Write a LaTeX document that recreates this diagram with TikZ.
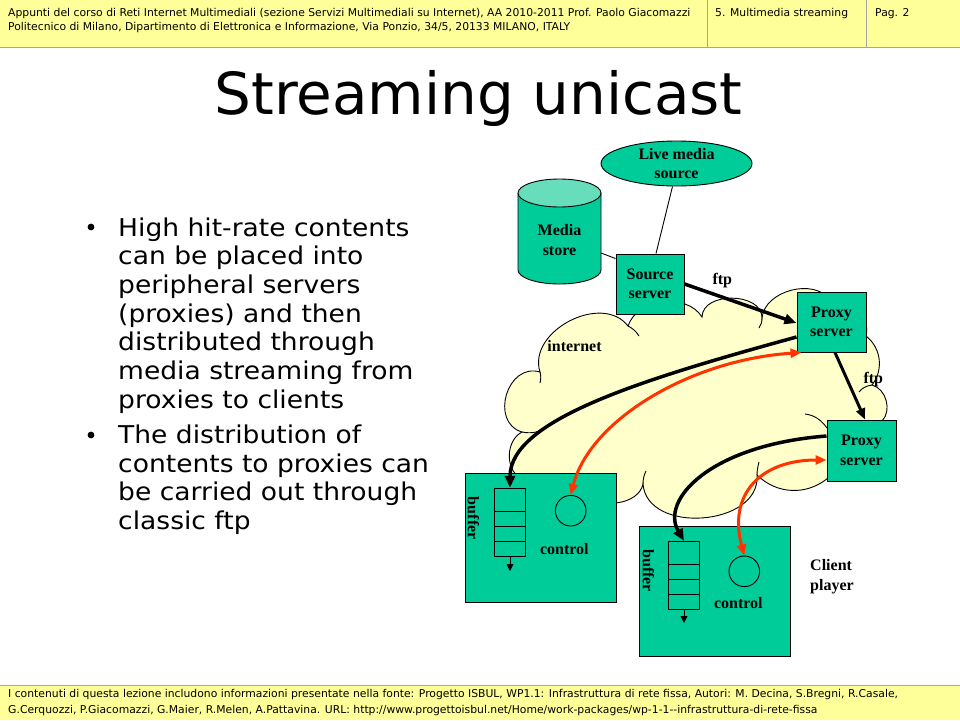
\documentclass[tikz,border=0pt]{standalone}
\usepackage{fontspec}
\setmainfont{DejaVu Sans}
\newfontfamily\tnr{Liberation Serif}
\newfontfamily\bulfont[FakeStretch=1.083]{DejaVu Sans}
\usetikzlibrary{arrows.meta,shapes.geometric}
\definecolor{hdr}{RGB}{255,255,153}
\definecolor{tealf}{RGB}{0,204,153}
\definecolor{tealtop}{RGB}{102,221,187}
\definecolor{cloudf}{RGB}{255,255,204}
\definecolor{redar}{RGB}{255,51,0}
\definecolor{bordergray}{RGB}{165,165,165}
\begin{document}
\begin{tikzpicture}[x=1pt,y=-1pt,
  lbl/.style={font=\tnr\bfseries\fontsize{16}{19.5}\selectfont, align=center, inner sep=0},
  box/.style={draw=black, line width=1pt, fill=tealf, inner sep=0},
  hdrtxt/.style={font=\fontsize{10.8}{13}\selectfont, anchor=base west, inner sep=0},
  bul/.style={font=\bulfont\fontsize{24.5}{28.6}\selectfont, anchor=base west, inner sep=0},
  blk/.style={line width=3.5pt, -{Triangle[length=12pt,width=10pt]}},
  redc/.style={draw=redar, line width=3pt, {Triangle[length=11pt,width=9pt]}-{Triangle[length=11pt,width=9pt]}},
  thinl/.style={line width=0.9pt},
  hook/.style={line width=0.9pt},
]
\useasboundingbox (0,0) rectangle (960,720);
\fill[white] (0,0) rectangle (960,720);
% header
\fill[hdr] (0,0) rectangle (960,47);
\draw[bordergray, line width=1pt] (0,47) -- (960,47);
\draw[bordergray, line width=1pt] (707,0) -- (707,47);
\draw[bordergray, line width=1pt] (866,0) -- (866,47);
\node[hdrtxt] (h1) at (8,16.5) {Appunti del corso di Reti Internet Multimediali (sezione Servizi Multimediali su Internet), AA 2010-2011 Prof. Paolo Giacomazzi};
\node[hdrtxt] (h2) at (8,30.5) {Politecnico di Milano, Dipartimento di Elettronica e Informazione, Via Ponzio, 34/5, 20133 MILANO, ITALY};
\node[hdrtxt] (h3) at (715,16.5) {5. Multimedia streaming};
\node[hdrtxt] (h4) at (875,16.5) {Pag. 2};
% footer
\fill[hdr] (0,685) rectangle (960,720);
\draw[bordergray, line width=1pt] (0,685) -- (960,685);
\node[hdrtxt] (f1) at (8,697) {I contenuti di questa lezione includono informazioni presentate nella fonte: Progetto ISBUL, WP1.1: Infrastruttura di rete fissa, Autori: M. Decina, S.Bregni, R.Casale,};
\node[hdrtxt] (f2) at (8,713.5) {G.Cerquozzi, P.Giacomazzi, G.Maier, R.Melen, A.Pattavina. URL: http://www.progettoisbul.net/Home/work-packages/wp-1-1-{}-infrastruttura-di-rete-fissa};
% title
\node[font=\fontsize{58}{60}\selectfont, anchor=base, inner sep=0] (title) at (478.5,114) {Streaming unicast};
% bullets
\fill (91,227) circle[radius=3.4pt];
\fill (91,435) circle[radius=3.4pt];
\node[bul] (b1) at (118,236) {High hit-rate contents};
\node[bul] (b2) at (118,264.7) {can be placed into};
\node[bul] (b3) at (118,293.3) {peripheral servers};
\node[bul] (b4) at (118,322) {(proxies) and then};
\node[bul] (b5) at (118,350.7) {distributed through};
\node[bul] (b6) at (118,379.3) {media streaming from};
\node[bul] (b7) at (118,408) {proxies to clients};
\node[bul] (b8) at (118,443.5) {The distribution of};
\node[bul] (b9) at (118,472.2) {contents to proxies can};
\node[bul] (b10) at (118,500.8) {be carried out through};
\node[bul] (b11) at (118,529.5) {classic ftp};
% cloud
\path[draw=black, line width=0.9pt, fill=cloudf]
 (520,478) to[bend left=60] (522,432)
 to[bend left=90, looseness=1.4] (540,372)
 to[bend left=80, looseness=1.1] (628,326)
 to[bend left=65] (702,317)
 to[bend left=90, looseness=1.1] (762,318)
 to[bend left=70] (830,300)
 to[bend left=60] (866,336)
 to[bend left=45] (872,385)
 to[bend left=60] (882,421)
 -- (840,470) -- (828,478)
 to[bend left=42] (757,475)
 to[bend left=90, looseness=1.15] (643,484)
 to[bend left=70] (590,492)
 -- (530,492) -- cycle;
\draw[hook] (522,432) .. controls (532,434) and (540,432) .. (546,427);
\draw[hook] (628,326) .. controls (632,328) and (636,331) .. (639,336);
\draw[hook] (872,385) .. controls (866,386) and (862,388) .. (859,392);
\draw[hook] (805,414) .. controls (815,415) and (822,421) .. (827,428);
\draw[hook] (757,475) .. controls (757,470) and (758,466) .. (759,462);
\draw[hook] (762,318) .. controls (762,322) and (761,325) .. (759,328);
\draw[hook] (540,372) .. controls (541,376) and (541,379) .. (540,383);
\draw[hook] (643,484) .. controls (643,479) and (644,475) .. (646,471);
\node[lbl] (inet) at (574.5,346) {internet};
% media store cylinder
\node[minimum width=83pt, minimum height=106pt, inner sep=0] (mstore) at (559.5,231) {};
\fill[tealf] (518,193) -- (518,270) .. controls (518,277.7) and (536.6,284) .. (559.5,284)
  .. controls (582.4,284) and (601,277.7) .. (601,270) -- (601,193) -- cycle;
\draw[thinl] (518,193) -- (518,270) .. controls (518,277.7) and (536.6,284) .. (559.5,284)
  .. controls (582.4,284) and (601,277.7) .. (601,270) -- (601,193);
\draw[thinl, fill=tealtop] (559.5,193) ellipse [x radius=41.5pt, y radius=14pt];
\node[lbl] (mstxt) at (559.5,240) {Media\\store};
% live media source
\node[ellipse, draw, thinl, fill=tealf, minimum width=151pt, minimum height=45pt, inner sep=0, lbl] (live) at (676.5,163.5) {Live media\\source};
% servers
\node[box, lbl, minimum width=68pt, minimum height=60pt] (src) at (650,284) {Source\\server};
\node[box, lbl, minimum width=69pt, minimum height=60pt] (px1) at (831.5,322) {Proxy\\server};
\node[box, lbl, minimum width=69pt, minimum height=61pt] (px2) at (861.5,450.5) {Proxy\\server};
\coordinate (msr) at (601,253);
\draw[thinl] (msr) -- ([yshift=-5pt]src.north west);
\draw[thinl] ([xshift=-4pt]live.south) -- ([xshift=6pt]src.north);
% client boxes
\node[box, minimum width=151pt, minimum height=129pt] (cl1) at (540.5,537.5) {};
\node[box, minimum width=151pt, minimum height=130pt] (cl2) at (714.5,591) {};
% buffers
\node[draw, thinl, fill=tealf, minimum width=30.6pt, minimum height=68.4pt, inner sep=0] (buf1) at (510,522.5) {};
\draw[thinl] (494.7,511) -- (525.3,511) (494.7,526.7) -- (525.3,526.7) (494.7,541.7) -- (525.3,541.7);
\node[draw, thinl, fill=tealf, minimum width=30.6pt, minimum height=68pt, inner sep=0] (buf2) at (684,575.3) {};
\draw[thinl] (668.7,564) -- (699.3,564) (668.7,579.3) -- (699.3,579.3) (668.7,594.3) -- (699.3,594.3);
\coordinate (o1) at (510,571);
\coordinate (o2) at (684,623);
\draw[thinl, -{Triangle[length=7pt,width=7pt]}] (buf1.south) -- (o1);
\draw[thinl, -{Triangle[length=7pt,width=7pt]}] (buf2.south) -- (o2);
\node[circle, draw, thinl, minimum size=30.6pt, inner sep=0] (c1) at (570.7,510.7) {};
\node[circle, draw, thinl, minimum size=30.6pt, inner sep=0] (c2) at (744.3,571.3) {};
\node[lbl] (ctl1) at (564.3,549.3) {control};
\node[lbl] (ctl2) at (738.3,602.7) {control};
\node[lbl, rotate=-90] (bl1) at (473.3,518.3) {buffer};
\node[lbl, rotate=-90] (bl2) at (648.3,570.7) {buffer};
\node[lbl, align=left, anchor=west] (cp) at (810,576.5) {Client\\player};
% ftp arrows
\draw[blk] (src.east) -- ([yshift=-1pt]px1.west);
\draw[line width=3pt, -{Triangle[length=11pt,width=9pt]}] ([xshift=3.5pt]px1.south) -- ([xshift=3.5pt]px2.north);
\node[lbl] (ftp1) at (722.3,281) {ftp};
\node[lbl] (ftp2) at (873.3,379.3) {ftp};
% streaming arrows
\draw[blk] ([yshift=-15pt]px1.west) .. controls (640,380) and (510,420) .. (buf1.north);
\draw[redc] (c1.north) .. controls (590,420) and (690,360) .. ([xshift=5pt]px1.south west);
\draw[blk] ([yshift=14.5pt]px2.west) .. controls (710,445) and (660,500) .. (buf2.north);
\draw[redc] (c2.north) .. controls (728,495) and (760,460) .. ([yshift=-9.5pt]px2.west);
\end{tikzpicture}
\end{document}
